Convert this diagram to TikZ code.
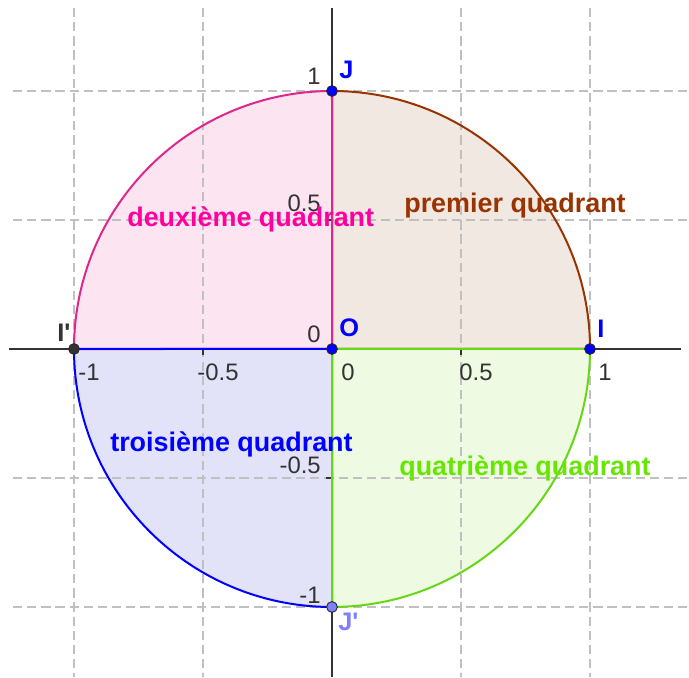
\documentclass[tikz,border=0pt]{standalone}
\usepackage{fontspec}
\setmainfont{Liberation Sans}
\newfontfamily\plainlab{Liberation Sans}
\definecolor{brn}{RGB}{153,51,0}
\definecolor{pnk}{RGB}{255,0,160}
\definecolor{pnkline}{RGB}{220,40,140}
\definecolor{blu}{RGB}{0,0,255}
\definecolor{grn}{RGB}{102,230,0}
\definecolor{grnline}{RGB}{102,215,20}
\definecolor{brnfill}{RGB}{242,232,226}
\definecolor{pnkfill}{RGB}{252,228,240}
\definecolor{blufill}{RGB}{226,226,248}
\definecolor{grnfill}{RGB}{238,250,226}
\definecolor{gridgray}{RGB}{192,192,192}
\definecolor{axisgray}{RGB}{51,51,51}
\definecolor{jprime}{RGB}{127,127,255}
\begin{document}
\begin{tikzpicture}[x=0.65pt,y=0.65pt,
  gridline/.style={gridgray,line width=0.8pt,dash pattern=on 6pt off 3.2pt},
  axisline/.style={axisgray,line width=1.2pt},
  tickline/.style={axisgray,line width=0.8pt},
  sector/.style={line width=1.3pt,line join=round},
  pt/.style={circle,draw=black!85,line width=0.6pt,inner sep=0pt,minimum size=7pt},
  ticklab/.style={text=axisgray,font=\fontsize{15.5}{18}\selectfont,inner sep=0pt},
  ptlab/.style={font=\plainlab\fontsize{16.5}{19}\selectfont\bfseries,inner sep=0pt,anchor=base west},
  quadlab/.style={font=\fontsize{17.5}{21}\selectfont\bfseries,inner sep=0pt,anchor=base west}]
\useasboundingbox (-332,-328) rectangle (357,349);
\def\R{167.7pt}
\coordinate (O) at (0,0);
\coordinate (I) at (258,0);
\coordinate (J) at (0,258);
\coordinate (Ip) at (-258,0);
\coordinate (Jp) at (0,-258);
% sector fills
\fill[brnfill] (O) -- (I) arc[start angle=0,end angle=90,radius=\R] -- cycle;
\fill[pnkfill] (O) -- (J) arc[start angle=90,end angle=180,radius=\R] -- cycle;
\fill[blufill] (O) -- (Ip) arc[start angle=180,end angle=270,radius=\R] -- cycle;
\fill[grnfill] (O) -- (Jp) arc[start angle=270,end angle=360,radius=\R] -- cycle;
% grid
\foreach \x in {-258,-129,129,258} \draw[gridline] (\x,341) -- (\x,-328);
\foreach \y in {-258,-129,129,258} \draw[gridline] (-319,\y) -- (357,\y);
% axes
\draw[axisline] (-323,0) -- (349,0);
\draw[axisline] (0,341) -- (0,-328);
\foreach \x in {-258,-129,129,258} \draw[tickline] (\x,0) -- (\x,-6);
\foreach \y in {-258,-129,129,258} \draw[tickline] (0,\y) -- (-6,\y);
% sector outlines
\draw[sector,brn] (O) -- (I) arc[start angle=0,end angle=90,radius=\R] -- cycle;
\draw[sector,pnkline] (O) -- (J) arc[start angle=90,end angle=180,radius=\R] -- cycle;
\draw[sector,blu] (O) -- (Ip) arc[start angle=180,end angle=270,radius=\R] -- cycle;
\draw[sector,grnline] (O) -- (Jp) arc[start angle=270,end angle=360,radius=\R] -- cycle;
% tick labels
\foreach \x/\t in {-243/-1,-114/-0.5,16/0,144/0.5,273/1}
  \node[ticklab,anchor=base] at (\x,-32) {\t};
\foreach \y/\t in {264/1,137/0.5,6/0,-124/-0.5,-254/-1}
  \node[ticklab,anchor=base east] at (-11,\y) {\t};
% points
\node[pt,fill=blu] (pO) at (O) {};
\node[pt,fill=blu] (pI) at (I) {};
\node[pt,fill=blu] (pJ) at (J) {};
\node[pt,fill=axisgray] (pIp) at (Ip) {};
\node[pt,fill=jprime] (pJp) at (Jp) {};
% point labels
\node[ptlab,text=blu] (lJ) at (7,270) {J};
\node[ptlab,text=blu] (lO) at (7,12) {O};
\node[ptlab,text=blu] (lI) at (265,11) {I};
\node[ptlab,text=axisgray] (lIp) at (-275,7) {I'};
\node[ptlab,text=jprime] (lJp) at (6,-281) {J'};
% quadrant labels
\node[quadlab,text=brn] (q1) at (72,136) {premier quadrant};
\node[quadlab,text=pnk] (q2) at (-205,122) {deuxième quadrant};
\node[quadlab,text=blu] (q3) at (-222,-102) {troisième quadrant};
\node[quadlab,text=grn] (q4) at (67,-126) {quatrième quadrant};
\end{tikzpicture}
\end{document}
